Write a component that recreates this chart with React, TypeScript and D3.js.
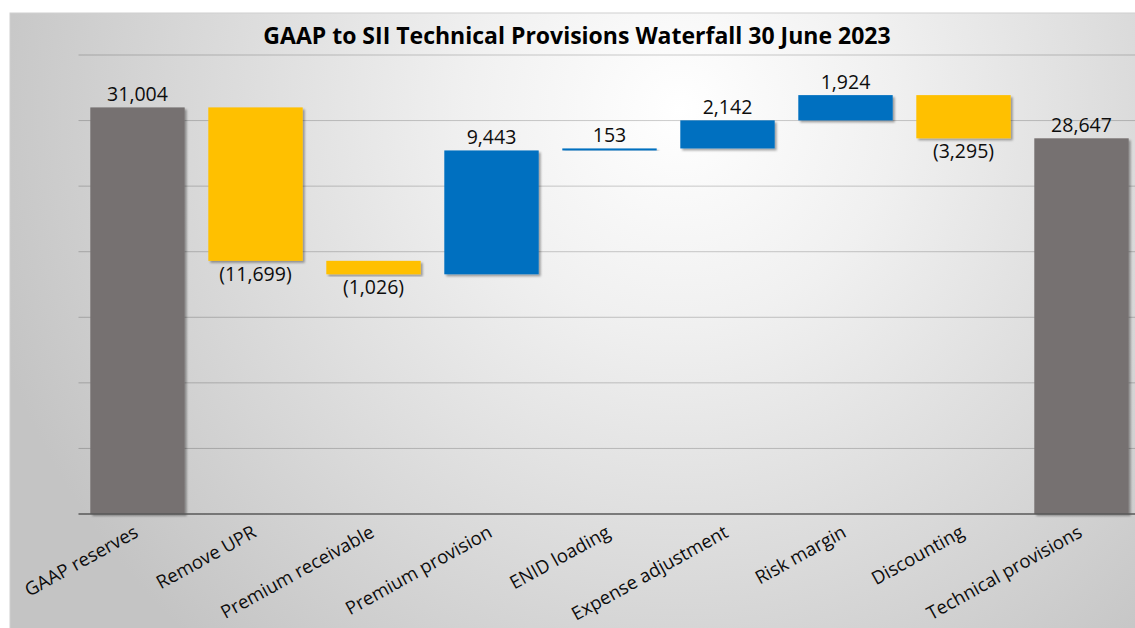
import React, { useRef, useEffect } from 'react';
import * as d3 from 'd3';

const categories = [
  'GAAP reserves',
  'Remove UPR',
  'Premium receivable',
  'Premium provision',
  'ENID loading',
  'Expense adjustment',
  'Risk margin',
  'Discounting',
  'Technical provisions',
];
const values = [31004, -11699, -1026, 9443, 153, 2142, 1924, -3295, 28647];
const isTotal = [true, false, false, false, false, false, false, false, true];
const yTicks = [0, 5000, 10000, 15000, 20000, 25000, 30000, 35000];

const W = 1135;
const H = 628;
const COLORS = { total: '#767171', up: '#0070C0', down: '#FFC000' };
const FONT = '"Open Sans", "DejaVu Sans", sans-serif';

const fmt = (v: number) => (v < 0 ? `(${d3.format(',')(-v)})` : d3.format(',')(v));

function App() {
  const svgRef = useRef<SVGSVGElement>(null);

  useEffect(() => {
    const svg = d3.select(svgRef.current);
    svg.selectAll('*').remove();

    const margin = { top: 55, left: 78.5, right: 1140.5, bottom: 514 };

    const defs = svg.append('defs');
    const grad = defs.append('radialGradient')
      .attr('id', 'bg')
      .attr('gradientUnits', 'userSpaceOnUse')
      .attr('cx', 680).attr('cy', 110).attr('r', 720);
    grad.append('stop').attr('offset', 0).attr('stop-color', '#ffffff');
    grad.append('stop').attr('offset', 0.3).attr('stop-color', '#f0f0f0');
    grad.append('stop').attr('offset', 1).attr('stop-color', '#c4c4c4');

    const shadow = defs.append('filter').attr('id', 'shadow')
      .attr('x', '-10%').attr('y', '-10%').attr('width', '130%').attr('height', '130%');
    shadow.append('feDropShadow')
      .attr('dx', 2).attr('dy', 2).attr('stdDeviation', 1.3)
      .attr('flood-color', '#000').attr('flood-opacity', 0.35);

    // Chart area background
    svg.append('rect')
      .attr('x', 10).attr('y', 13)
      .attr('width', 1140).attr('height', 625)
      .attr('fill', 'url(#bg)')
      .attr('stroke', '#d0d0d0');

    // Title
    svg.append('text')
      .attr('x', 577).attr('y', 44)
      .attr('text-anchor', 'middle')
      .attr('font-family', FONT)
      .attr('font-weight', 'bold')
      .attr('font-size', 23)
      .attr('fill', '#000')
      .text('GAAP to SII Technical Provisions Waterfall 30 June 2023');

    const x = d3.scaleBand()
      .domain(categories)
      .range([margin.left, margin.right])
      .paddingInner(0.2)
      .paddingOuter(0.1);

    const y = d3.scaleLinear()
      .domain([0, 35000])
      .range([margin.bottom, margin.top]);

    // Grid lines
    svg.append('g')
      .selectAll('line')
      .data(yTicks.slice(1))
      .enter()
      .append('line')
      .attr('x1', margin.left).attr('x2', W)
      .attr('y1', d => y(d)).attr('y2', d => y(d))
      .attr('stroke', 'rgba(0,0,0,0.2)')
      .attr('stroke-width', 1);

    // Waterfall steps
    let running = 0;
    const steps = values.map((v, i) => {
      let lo: number, hi: number;
      if (isTotal[i]) {
        lo = 0; hi = v; running = v;
      } else {
        const start = running;
        running = start + v;
        lo = Math.min(start, running);
        hi = Math.max(start, running);
      }
      return { cat: categories[i], v, lo, hi, total: isTotal[i] };
    });

    const bars = svg.append('g');
    bars.selectAll('rect')
      .data(steps)
      .enter()
      .append('rect')
      .attr('x', d => x(d.cat)!)
      .attr('width', x.bandwidth())
      .attr('y', d => y(d.hi))
      .attr('height', d => Math.max(2, y(d.lo) - y(d.hi)))
      .attr('fill', d => (d.total ? COLORS.total : d.v < 0 ? COLORS.down : COLORS.up))
      .attr('filter', 'url(#shadow)');

    // Data labels
    svg.append('g')
      .selectAll('text')
      .data(steps)
      .enter()
      .append('text')
      .attr('x', d => x(d.cat)! + x.bandwidth() / 2)
      .attr('y', d => (d.v < 0 ? y(d.lo) + 20 : y(d.hi) - 6))
      .attr('text-anchor', 'middle')
      .attr('font-family', FONT)
      .attr('font-size', 19.5)
      .attr('fill', '#0d0d0d')
      .text(d => fmt(d.v));

    // X axis line
    svg.append('line')
      .attr('x1', margin.left).attr('x2', W)
      .attr('y1', y(0)).attr('y2', y(0))
      .attr('stroke', '#595959')
      .attr('stroke-width', 1.5);

    // Category labels
    svg.append('g')
      .selectAll('text')
      .data(categories)
      .enter()
      .append('text')
      .attr('transform', d => `translate(${x(d)! + x.bandwidth() / 2 + 2},${y(0) + 22}) rotate(-29)`)
      .attr('text-anchor', 'end')
      .attr('font-family', FONT)
      .attr('font-size', 18.5)
      .attr('fill', '#0d0d0d')
      .text(d => d);
  }, []);

  return (
    <svg
      ref={svgRef}
      width={W}
      height={H}
      style={{ position: 'absolute', left: 0, top: 0, background: '#fff' }}
    />
  );
}

export default App;
